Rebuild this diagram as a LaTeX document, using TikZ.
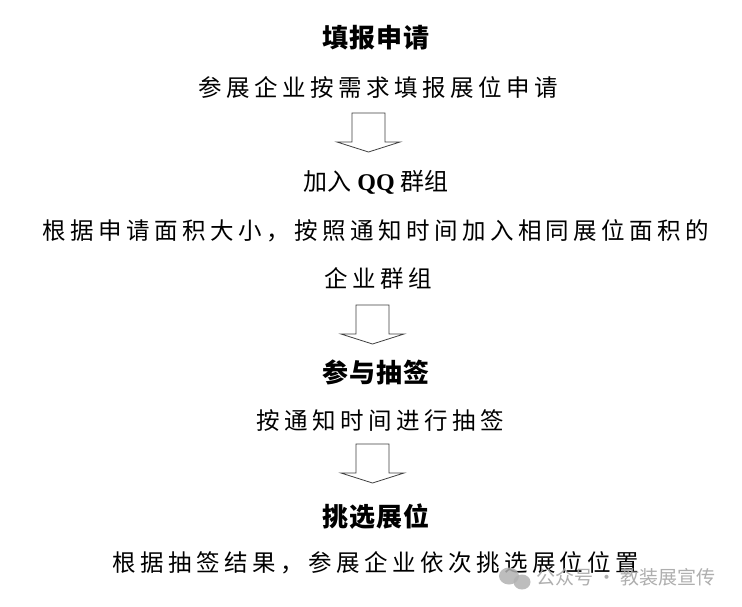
\documentclass[tikz,border=0pt]{standalone}
\usepackage{fontspec}
\usetikzlibrary{calc}
\setmainfont{Liberation Serif}
\newfontfamily\cjk{Noto Sans CJK SC}
\newfontfamily\cjkbody[LetterSpace=19]{Noto Sans CJK SC}
\newfontfamily\cjkhead[LetterSpace=3]{Noto Sans CJK SC}
\begin{document}
\begin{tikzpicture}[x=1pt,y=-1pt,
  headtxt/.style={inner sep=0pt,font=\cjkhead\bfseries\fontsize{26}{28}\selectfont},
  bodytxt/.style={inner sep=0pt,font=\cjkbody\fontsize{23.5}{26}\selectfont},
  blockarrow/.style={draw=black!75,line width=0.8pt,fill=white,line join=miter},
  wmark/.style={inner sep=0pt,text=black!35,opacity=0.9,font=\cjk\fontsize{19}{21}\selectfont}]
\useasboundingbox (0,0) rectangle (742,606);
\fill[white] (0,0) rectangle (742,606);
% text nodes
\node[headtxt] (h1) at (376,38) {填报申请};
\node[bodytxt] (b1) at (378,87) {参展企业按需求填报展位申请};
\node[inner sep=0pt,font=\cjk\fontsize{24}{26}\selectfont] (h2) at (376,182) {加入 {\rmfamily\bfseries QQ} 群组};
\node[bodytxt] (b2a) at (376,231) {根据申请面积大小，按照通知时间加入相同展位面积的};
\node[bodytxt] (b2b) at (378,278) {企业群组};
\node[headtxt] (h3) at (376,372) {参与抽签};
\node[bodytxt] (b3) at (380,421) {按通知时间进行抽签};
\node[headtxt] (h4) at (376,517) {挑选展位};
\node[bodytxt] (b4) at (376,563) {根据抽签结果，参展企业依次挑选展位位置};
% block arrows
\foreach \cx/\ty [count=\i] in {368.5/113, 372.5/305, 372.5/444}{
  \coordinate (a\i) at (\cx,\ty);
  \draw[blockarrow] ($(a\i)+(-16.5,0)$) -- ($(a\i)+(-16.5,29)$) -- ($(a\i)+(-31.5,29)$) -- ($(a\i)+(0,39)$) -- ($(a\i)+(31.5,29)$) -- ($(a\i)+(16.5,29)$) -- ($(a\i)+(16.5,0)$) -- cycle;
}
% watermark
\fill[black!30,opacity=0.85] (509,576) ellipse (10 and 8.5);
\fill[black!30,opacity=0.85] (522,582) ellipse (8.5 and 7.5);
\node[wmark,anchor=west] (wm) at (536,577) {公众号 · 教装展宣传};
\end{tikzpicture}
\end{document}
